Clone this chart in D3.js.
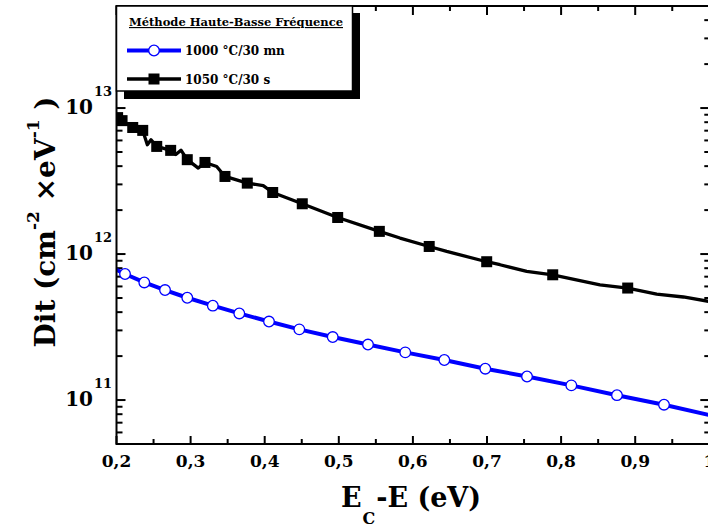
<!DOCTYPE html>
<html><head><meta charset="utf-8">
<script src="https://cdn.jsdelivr.net/npm/d3@7"></script>
<style>
html,body{margin:0;padding:0;background:#fff;}
svg{display:block;}
text{font-family:"DejaVu Serif",serif;font-weight:bold;fill:#000;}
</style></head>
<body>
<svg id="c" width="708" height="527"></svg>
<script>
// ---- data ----
const seriesNames = ["1000 °C/30 mn", "1050 °C/30 s"];
const legendTitle = "Méthode Haute-Basse Fréquence";

// 1000 °C/30 mn (blue, open circles)
const blueLineE   = [0.200, 0.2115, 0.2375, 0.2655, 0.2955, 0.330, 0.3657, 0.4058, 0.4467, 0.4918, 0.5394, 0.5897, 0.6424, 0.6977, 0.754, 0.8138, 0.8754, 0.9389, 1.000];
const blueLineDit = [7.81e11, 7.30e11, 6.39e11, 5.67e11, 5.02e11, 4.43e11, 3.92e11, 3.45e11, 3.05e11, 2.70e11, 2.40e11, 2.12e11, 1.88e11, 1.64e11, 1.45e11, 1.26e11, 1.08e11, 9.29e10, 7.90e10];
const blueMarkE   = [0.2115, 0.2375, 0.2655, 0.2955, 0.330, 0.3657, 0.4058, 0.4467, 0.4918, 0.5394, 0.5897, 0.6424, 0.6977, 0.754, 0.8138, 0.8754, 0.9389];
const blueMarkDit = [7.30e11, 6.39e11, 5.67e11, 5.02e11, 4.43e11, 3.92e11, 3.45e11, 3.05e11, 2.70e11, 2.40e11, 2.12e11, 1.88e11, 1.64e11, 1.45e11, 1.26e11, 1.08e11, 9.29e10];

// 1050 °C/30 s (black, filled squares)
const blackLineE   = [0.200, 0.2015, 0.2075, 0.2219, 0.2354, 0.2416, 0.2466, 0.2543, 0.2731, 0.2800, 0.2870, 0.2955, 0.3104, 0.3194, 0.3352, 0.3464, 0.3765, 0.398, 0.4108, 0.4507, 0.4985, 0.5547, 0.5826, 0.622, 0.6456, 0.6996, 0.7175, 0.7536, 0.7887, 0.8525, 0.8899, 0.929, 0.965, 1.000];
const blackLineDit = [8.85e12, 8.60e12, 8.20e12, 7.36e12, 7.03e12, 5.61e12, 6.07e12, 5.46e12, 5.13e12, 4.80e12, 5.15e12, 4.43e12, 3.88e12, 4.24e12, 3.98e12, 3.40e12, 3.06e12, 2.94e12, 2.64e12, 2.21e12, 1.78e12, 1.43e12, 1.287e12, 1.127e12, 1.042e12, 8.86e11, 8.45e11, 7.60e11, 7.21e11, 6.16e11, 5.85e11, 5.32e11, 5.08e11, 4.73e11];
const blackMarkE   = [0.2015, 0.2075, 0.2219, 0.2354, 0.2543, 0.2731, 0.2955, 0.3194, 0.3464, 0.3765, 0.4108, 0.4507, 0.4985, 0.5547, 0.622, 0.6996, 0.7887, 0.8899];
const blackMarkDit = [8.60e12, 8.20e12, 7.36e12, 7.03e12, 5.46e12, 5.13e12, 4.43e12, 4.24e12, 3.40e12, 3.06e12, 2.64e12, 2.21e12, 1.78e12, 1.43e12, 1.127e12, 8.86e11, 7.21e11, 5.85e11];

const xMajorTicks = [0.2, 0.3, 0.4, 0.5, 0.6, 0.7, 0.8, 0.9, 1.0];
const xTickLabels = ["0,2", "0,3", "0,4", "0,5", "0,6", "0,7", "0,8", "0,9", "1"];
const xMinorTicks = [0.25, 0.35, 0.45, 0.55, 0.65, 0.75, 0.85, 0.95];
const yMajorTicks = [1e11, 1e12, 1e13];
const yTickExponents = ["11", "12", "13"];

// ---- layout ----
const L = 116.5, R = 709.3, T = 6, B = 444;
const x = d3.scaleLinear().domain([0.2, 1.0]).range([L, R]);
const y = d3.scaleLog().domain([5e10, 5e13]).range([B, T]);

const svg = d3.select("#c");
svg.append("defs").append("clipPath").attr("id", "clip")
  .append("rect").attr("x", L).attr("y", T).attr("width", R - L).attr("height", B - T);

// minor y ticks from the log scale
const yMinor = y.ticks().filter(v => !yMajorTicks.some(m => Math.abs(m - v) / m < 1e-6));

const g = svg.append("g");
const tk = g.append("g").attr("stroke", "#000").attr("stroke-width", 2);
xMajorTicks.forEach(v => {
  tk.append("line").attr("x1", x(v)).attr("x2", x(v)).attr("y1", B).attr("y2", B - 8);
  tk.append("line").attr("x1", x(v)).attr("x2", x(v)).attr("y1", T).attr("y2", T + 9);
});
xMinorTicks.forEach(v => {
  tk.append("line").attr("x1", x(v)).attr("x2", x(v)).attr("y1", B).attr("y2", B - 5);
  tk.append("line").attr("x1", x(v)).attr("x2", x(v)).attr("y1", T).attr("y2", T + 5);
});
yMajorTicks.forEach(v => {
  tk.append("line").attr("x1", L).attr("x2", L + 9).attr("y1", y(v)).attr("y2", y(v));
  tk.append("line").attr("x1", R).attr("x2", R - 9).attr("y1", y(v)).attr("y2", y(v));
});
yMinor.forEach(v => {
  tk.append("line").attr("x1", L).attr("x2", L + 6).attr("y1", y(v)).attr("y2", y(v));
  tk.append("line").attr("x1", R).attr("x2", R - 5).attr("y1", y(v)).attr("y2", y(v));
});

// series
const line = d3.line().x(d => x(d[0])).y(d => y(d[1])).curve(d3.curveLinear);
const plot = svg.append("g").attr("clip-path", "url(#clip)");
plot.append("path").datum(blueLineE.map((e, i) => [e, blueLineDit[i]]))
  .attr("d", line).attr("fill", "none").attr("stroke", "#0000ff").attr("stroke-width", 4)
  .attr("stroke-linejoin", "round");
plot.selectAll("circle.m").data(blueMarkE.map((e, i) => [e, blueMarkDit[i]])).join("circle")
  .attr("cx", d => x(d[0])).attr("cy", d => y(d[1])).attr("r", 5.3)
  .attr("fill", "#fff").attr("stroke", "#0000ff").attr("stroke-width", 1.3);
plot.append("path").datum(blackLineE.map((e, i) => [e, blackLineDit[i]]))
  .attr("d", line).attr("fill", "none").attr("stroke", "#000").attr("stroke-width", 3.3)
  .attr("stroke-linejoin", "round");
plot.selectAll("rect.m").data(blackMarkE.map((e, i) => [e, blackMarkDit[i]])).join("rect")
  .attr("x", d => x(d[0]) - 5.5).attr("y", d => y(d[1]) - 5.5).attr("width", 11).attr("height", 11)
  .attr("fill", "#000");

// frame
svg.append("rect").attr("x", L).attr("y", T).attr("width", R - L).attr("height", B - T)
  .attr("fill", "none").attr("stroke", "#000").attr("stroke-width", 2);

// x tick labels
xMajorTicks.forEach((v, i) => {
  svg.append("text").attr("x", x(v)).attr("y", 467).attr("text-anchor", "middle")
    .attr("font-size", 17).text(xTickLabels[i]);
});
// y tick labels
yMajorTicks.forEach((v, i) => {
  const t = y(v);
  svg.append("text").attr("x", 93).attr("y", t + 6).attr("text-anchor", "end")
    .attr("font-size", 20).text("10");
  svg.append("text").attr("x", 94).attr("y", t - 12.5).attr("text-anchor", "start")
    .attr("font-size", 13).text(yTickExponents[i]);
});

// x axis title
const xt = svg.append("text").attr("x", 411).attr("y", 507).attr("text-anchor", "middle").attr("font-size", 27);
xt.append("tspan").text("E");
xt.append("tspan").attr("font-size", 16).attr("dy", 17).attr("dx", 1).text("C");
xt.append("tspan").attr("dy", -17).attr("dx", 1).text("-E (eV)");

// y axis title
const yt = svg.append("text").attr("transform", "translate(55,222) rotate(-90)")
  .attr("text-anchor", "middle").attr("font-size", 28);
yt.append("tspan").text("Dit (cm");
yt.append("tspan").attr("font-size", 17).attr("dy", -16).text("-2");
yt.append("tspan").attr("dy", 16).text(" ×eV");
yt.append("tspan").attr("font-size", 17).attr("dy", -16).text("-1");
yt.append("tspan").attr("dy", 16).text(" )");

// legend
const lg = svg.append("g");
lg.append("rect").attr("x", 124).attr("y", 13).attr("width", 236).attr("height", 86).attr("fill", "#000");
lg.append("rect").attr("x", L).attr("y", T).attr("width", 236).attr("height", 85)
  .attr("fill", "#fff").attr("stroke", "#000").attr("stroke-width", 1.5);
lg.append("text").attr("x", 236).attr("y", 26).attr("text-anchor", "middle").attr("font-size", 11.5)
  .attr("text-decoration", "underline").text(legendTitle);
lg.append("line").attr("x1", 127).attr("x2", 181).attr("y1", 50.5).attr("y2", 50.5)
  .attr("stroke", "#0000ff").attr("stroke-width", 4);
lg.append("circle").attr("cx", 154).attr("cy", 50.5).attr("r", 5.3).attr("fill", "#fff")
  .attr("stroke", "#0000ff").attr("stroke-width", 1.3);
lg.append("text").attr("x", 185).attr("y", 55).attr("font-size", 12).text(seriesNames[0]);
lg.append("line").attr("x1", 127).attr("x2", 181).attr("y1", 79).attr("y2", 79)
  .attr("stroke", "#000").attr("stroke-width", 3.3);
lg.append("rect").attr("x", 148.5).attr("y", 73.5).attr("width", 11).attr("height", 11).attr("fill", "#000");
lg.append("text").attr("x", 185).attr("y", 83.5).attr("font-size", 12).text(seriesNames[1]);
</script>
</body></html>
